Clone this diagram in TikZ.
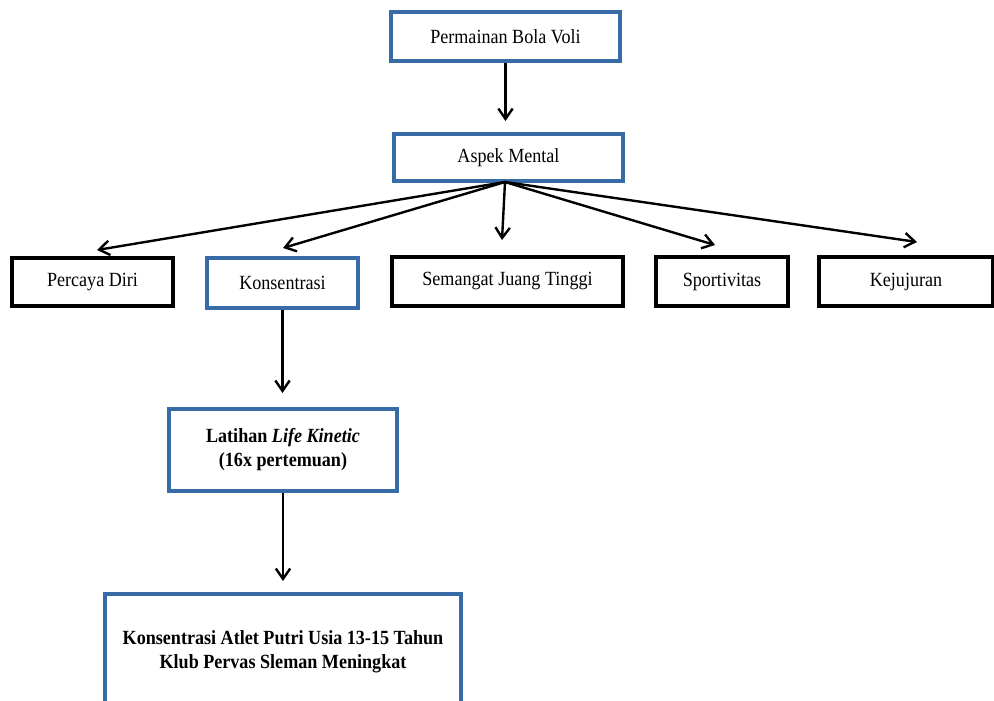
\documentclass[tikz,border=0pt]{standalone}
\usepackage{fontspec}
\setmainfont{Liberation Serif}[FakeStretch=0.9]
\usepackage{xcolor}
\usepackage{tikz}
\usetikzlibrary{arrows.meta}
\definecolor{boxblue}{RGB}{56,108,168}

\begin{document}
\begin{tikzpicture}[x=0.025cm, y=-0.025cm,
        every node/.style={font=\fontsize{14.3}{17}\selectfont},
        bluebox/.style={draw=boxblue, line width=0.1cm, align=center, inner sep=0pt},
        blackbox/.style={draw=black, line width=0.1cm, align=center, inner sep=0pt},
        arr/.style={-{Straight Barb[length=2.6mm,width=3.6mm]}, line width=1.7pt}]
        % Page frame
        \clip (0,0) rectangle (994,700);

        % Top of the chain
        \node[bluebox, minimum width=5.725cm, minimum height=1.225cm] (voli) at (505.5,36.5) {Permainan Bola Voli};
        \node[bluebox, minimum width=5.725cm, minimum height=1.175cm] (mental) at (508.5,157.5) {Aspek Mental};

        % Mental aspects
        \node[blackbox, minimum width=4.025cm, minimum height=1.2cm] (percaya) at (92.5,282) {Percaya Diri};
        \node[bluebox, minimum width=3.775cm, minimum height=1.25cm] (konsen) at (282.5,283) {Konsentrasi};
        \node[blackbox, minimum width=5.775cm, minimum height=1.225cm] (semangat) at (507.5,281.5) {Semangat Juang Tinggi};
        \node[blackbox, minimum width=3.3cm, minimum height=1.225cm] (sportif) at (722,281.5) {Sportivitas};
        \node[blackbox, minimum width=4.325cm, minimum height=1.225cm] (jujur) at (906,281.5) {Kejujuran};

        % Treatment and result
        \node[bluebox, minimum width=5.7cm, minimum height=2.05cm] (latihan) at (283,450)
            {\bfseries Latihan \textit{Life Kinetic}\\\bfseries (16x pertemuan)};
        \node[bluebox, minimum width=8.9cm, minimum height=2.9cm] (hasil) at (283,652)
            {\bfseries Konsentrasi Atlet Putri Usia 13-15 Tahun\\\bfseries Klub Pervas Sleman Meningkat};

        % Arrow tips of the fan
        \coordinate (hub) at (505,182);
        \coordinate (tpercaya) at (97,250);
        \coordinate (tkonsen) at (283,248);
        \coordinate (tsemangat) at (502,240);
        \coordinate (tsportif) at (715,245);
        \coordinate (tjujur) at (917,242);

        % Arrows
        \draw[arr, shorten >=11*0.025cm] (voli.south) -- (voli.south |- mental.north);
        \foreach \t in {tpercaya,tkonsen,tsemangat,tsportif,tjujur} {
            \draw[arr] (hub) -- (\t);
        }
        \draw[arr, shorten >=14*0.025cm] (konsen.south) -- (konsen.south |- latihan.north);
        \draw[arr, shorten >=11*0.025cm] (latihan.south) -- (latihan.south |- hasil.north);
    \end{tikzpicture}
\end{document}
